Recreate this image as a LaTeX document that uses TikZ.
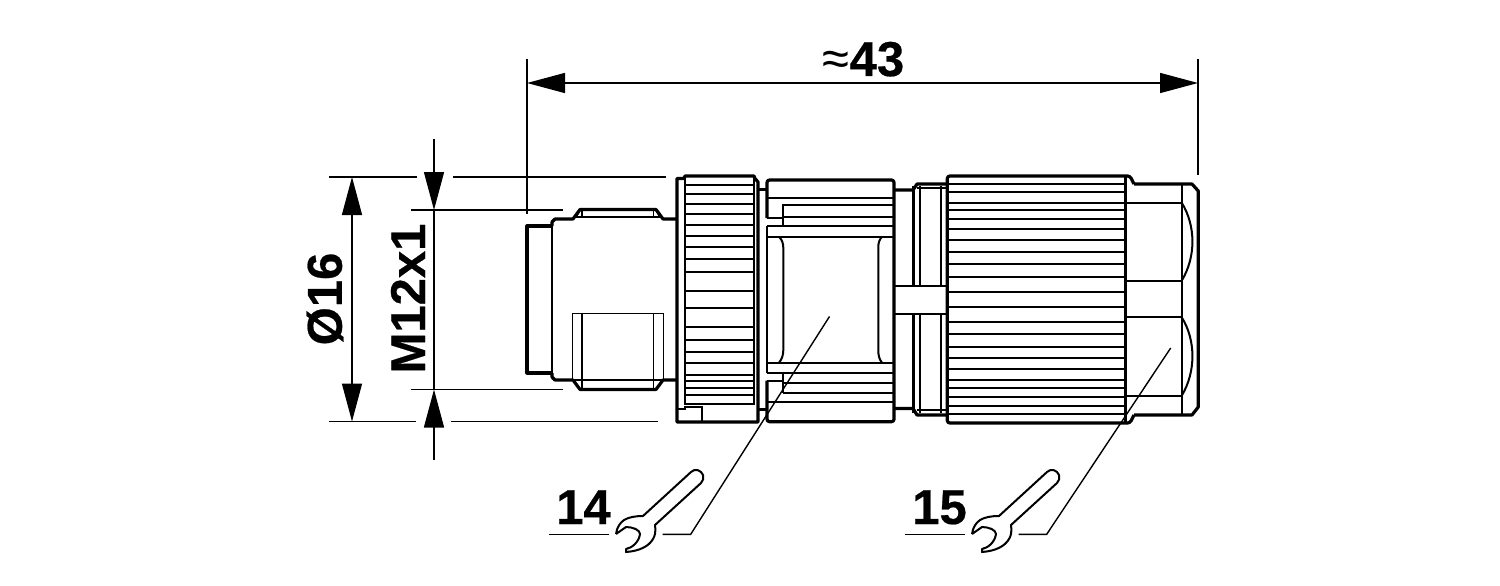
\documentclass[tikz,border=0pt]{standalone}
\usepackage{fontspec}
\setmainfont{Liberation Sans}[BoldFeatures={FakeBold=0.5}]
\usetikzlibrary{arrows.meta}
\tikzset{
  thinline/.style={line width=1.8pt},
  midline/.style={line width=2pt},
  boldline/.style={line width=3.2pt, line join=round},
  dimline/.style={line width=1.4pt},
  dimtip/.style={-{Triangle[length=38pt,width=20pt]}, line width=1.4pt},
  dimlabel/.style={font=\bfseries\fontsize{49}{49}\selectfont, inner sep=0pt}
}
% one spanner, drawn at the origin of its scope
\newcommand{\Spanner}{
  \draw[midline, line join=round] (0,0) .. controls (1,-7) and (4,-11) .. (8,-14)
    .. controls (13,-17) and (20,-18) .. (27,-18) -- (75,-62)
    .. controls (79,-66) and (85,-64) .. (87,-59)
    .. controls (88,-56) and (87,-53) .. (85,-51) -- (39,-9)
    .. controls (40,-3) and (39,2) .. (37,5) .. controls (33,12) and (24,17) .. (10,18)
    -- (10,15) .. controls (16,14) and (23,8) .. (24,0)
    .. controls (24,-4) and (17,-7) .. (10,-7) -- (0,0);
}
\begin{document}
\begin{tikzpicture}[x=1pt, y=-1pt]
  \useasboundingbox (0,0) rectangle (1500,586);

  %% dimension anchors
  \coordinate (widthL) at (527,83);
  \coordinate (widthR) at (1198,83);
  \coordinate (diaT) at (352,177);
  \coordinate (diaB) at (352,421.5);
  \coordinate (threadT0) at (434,139);
  \coordinate (threadT) at (434,210);
  \coordinate (threadB0) at (434,460);
  \coordinate (threadB) at (434,389.5);

  %% extension lines
  \draw[dimline] (527,59) -- (527,214);
  \draw[dimline] (1198,59) -- (1198,175);
  \draw[dimline] (329,177) -- (417,177);
  \draw[dimline] (453,177) -- (666,177);
  \draw[dimline] (411,210) -- (563,210);
  \draw[dimline] (411,389.5) -- (563,389.5);
  \draw[dimline] (329,421.5) -- (416,421.5);
  \draw[dimline] (451,421.5) -- (658,421.5);

  %% dimensions
  \draw[dimtip, {Triangle[length=38pt,width=20pt]}-{Triangle[length=38pt,width=20pt]}] (widthL) -- (widthR);
  \draw[dimtip, {Triangle[length=38pt,width=20pt]}-{Triangle[length=38pt,width=20pt]}] (diaT) -- (diaB);
  \draw[dimtip] (threadT0) -- (threadT);
  \draw[dimtip] (threadB0) -- (threadB);
  \draw[dimline] (threadT) -- (threadB);

  \node[dimlabel, anchor=base] (width) at (863.5,76) {{\fontseries{m}\selectfont ≈}43};
  \node[dimlabel, rotate=90] (dia) at (325,299) {Ø16};
  \node[dimlabel, rotate=90] (thread) at (408,298.5) {M12x1};
  \node[dimlabel, anchor=base] (sw14) at (583.5,524) {14};
  \node[dimlabel, anchor=base] (sw15) at (939.5,524) {15};

  %% plug end
  \draw[boldline] (552,226) -- (527,226) -- (527,373) -- (552,373);
  \draw[midline] (552,222) -- (552,377);
  \draw[boldline] (552,226) -- (552,222) -- (555,219) -- (573,219) -- (580,209.5)
    -- (656,209.5) -- (663,219) -- (677,219);
  \draw[boldline] (552,373) -- (552,377) -- (555,380) -- (573,380) -- (580,389.5)
    -- (656,389.5) -- (663,380) -- (677,380);
  \draw[thinline] (575,217) -- (660,217);
  \draw[thinline] (582,210) -- (582,217) (653.5,210) -- (653.5,217);
  \draw[thinline] (576,217) -- (580,210) (660,217) -- (656,210);

  %% flat on the plug
  \draw[thinline] (572.5,380) -- (572.5,313.5) -- (663.5,313.5) -- (663.5,380);
  \draw[thinline] (582,313.5) -- (582,389) (653.5,313.5) -- (653.5,389);
  \draw[thinline] (572.5,380) -- (663.5,380);

  %% first knurled ring
  \draw[boldline] (677,422) -- (677,178.5) -- (684,178.5) -- (685,176) -- (754,176)
    -- (755,178.5) -- (758,182) -- (758,422) -- cycle;
  \draw[midline] (685,177) -- (685,403.5) -- (753.5,403.5) -- (753.5,177);
  \foreach \ky in {185,194,204.3,214,225,236,246.7,258.7,271.7,290.7,308.3,327.3,340,352.3,363.3,374.7,381,387.7,395.3}
    \draw[midline] (685,\ky) -- (753.5,\ky);
  \draw[midline] (678,408.5) -- (685,408.5) -- (685,407) -- (702,407) -- (702,421);

  %% neck to the middle part
  \draw[boldline] (758,189.5) -- (767,189.5);
  \draw[boldline] (758,409.5) -- (767,409.5);

  %% middle part
  \draw[boldline, rounded corners=2.5pt] (767,218) -- (767,180) -- (894,180) -- (894,421.7) -- (767,421.7) -- (767,380.7);
  \draw[midline] (767,226) -- (767,373.3);
  \draw[midline] (767,198.3) -- (894,198.3);
  \draw[midline] (894,205) -- (783.3,205) -- (783.3,226);
  \draw[midline] (783.3,216.7) -- (894,216.7);
  \draw[midline] (767,218.3) -- (783.3,218.3);
  \draw[midline] (767,226) -- (894,226);
  \draw[midline] (767,236.7) -- (894,236.7);
  \draw[midline] (767,362.7) -- (894,362.7);
  \draw[midline] (767,373.3) -- (894,373.3);
  \draw[midline] (783.3,373.3) -- (783.3,393.3);
  \draw[midline] (767,380.7) -- (783.3,380.7);
  \draw[midline] (783.3,382.7) -- (894,382.7);
  \draw[midline] (783.3,393.3) -- (894,393.3);
  \draw[midline] (767,401.5) -- (894,401.5);

  %% window
  \draw[midline] (779,236.7) .. controls (782,240) and (783.3,243) .. (783.3,248) -- (783.3,350)
    .. controls (783.3,355) and (782,359) .. (779,362.7);
  \draw[midline] (882,236.7) .. controls (879,240) and (878.3,243) .. (878.3,248) -- (878.3,350)
    .. controls (878.3,355) and (879,359) .. (882,362.7);

  %% collar
  \draw[boldline] (894,190) -- (913,190) -- (917,184) -- (947,184);
  \draw[boldline] (894,408.5) -- (913,408.5) -- (917,415) -- (947,415);
  \draw[thinline] (917,188) -- (947,188) (917,410) -- (947,410);
  \foreach \cx/\lw in {913.3/2.6,920/1.7,940.7/1.7}{
    \draw[line width=\lw pt] (\cx,186) -- (\cx,286);
    \draw[line width=\lw pt] (\cx,314) -- (\cx,413);
  }
  \draw[midline] (894,286) -- (947,286) (894,314) -- (947,314);

  %% big knurled sleeve
  \draw[boldline, rounded corners=2.5pt] (947.3,280) -- (947.3,176) -- (1130,176) -- (1134,184);
  \draw[boldline, rounded corners=2.5pt] (947.3,280) -- (947.3,423) -- (1130,423) -- (1134,415);
  \draw[boldline] (1125.7,176) -- (1125.7,423);
  \foreach \ky in {184,192.3,202.7,210,219.3,229.3,240.3,252,264.3,276.7,291.7,307,322.3,334.3,346.7,358.3,369.3,380,388.3,396.7,406,414}
    \draw[midline] (947.3,\ky) -- (1125.7,\ky);

  %% cable nut
  \draw[boldline] (1134,184) -- (1192,184) -- (1198.3,191) -- (1198.3,407) -- (1192,415) -- (1134,415);
  \draw[midline] (1181.7,184) -- (1181.7,415);
  \draw[midline] (1125.7,202.7) -- (1181.7,202.7);
  \draw[midline] (1125.7,280.7) -- (1181.7,280.7);
  \draw[midline] (1125.7,317.3) -- (1181.7,317.3);
  \draw[midline] (1125.7,395.7) -- (1181.7,395.7);
  \draw[midline] (1181.7,202.7) .. controls (1196,226) and (1196,257) .. (1181.7,280.7);
  \draw[midline] (1181.7,317.3) .. controls (1196,340) and (1196,372) .. (1181.7,395.7);

  %% spanner callouts
  \coordinate (lead14A) at (549,534.3);
  \coordinate (lead14B) at (609,534.3);
  \coordinate (lead14C) at (662.7,534.3);
  \coordinate (lead14D) at (690.7,534.3);
  \coordinate (lead14E) at (829.5,316.5);
  \coordinate (lead15A) at (905,534.3);
  \coordinate (lead15B) at (965,534.3);
  \coordinate (lead15C) at (1018.7,534.3);
  \coordinate (lead15D) at (1046.7,534.3);
  \coordinate (lead15E) at (1170.7,348);
  \draw[dimline] (lead14A) -- (lead14B);
  \draw[dimline] (lead14C) -- (lead14D) -- (lead14E);
  \draw[dimline] (lead15A) -- (lead15B);
  \draw[dimline] (lead15C) -- (lead15D) -- (lead15E);
  \begin{scope}[shift={(616,534)}]
    \Spanner
  \end{scope}
  \begin{scope}[shift={(972,534)}]
    \Spanner
  \end{scope}
\end{tikzpicture}
\end{document}
